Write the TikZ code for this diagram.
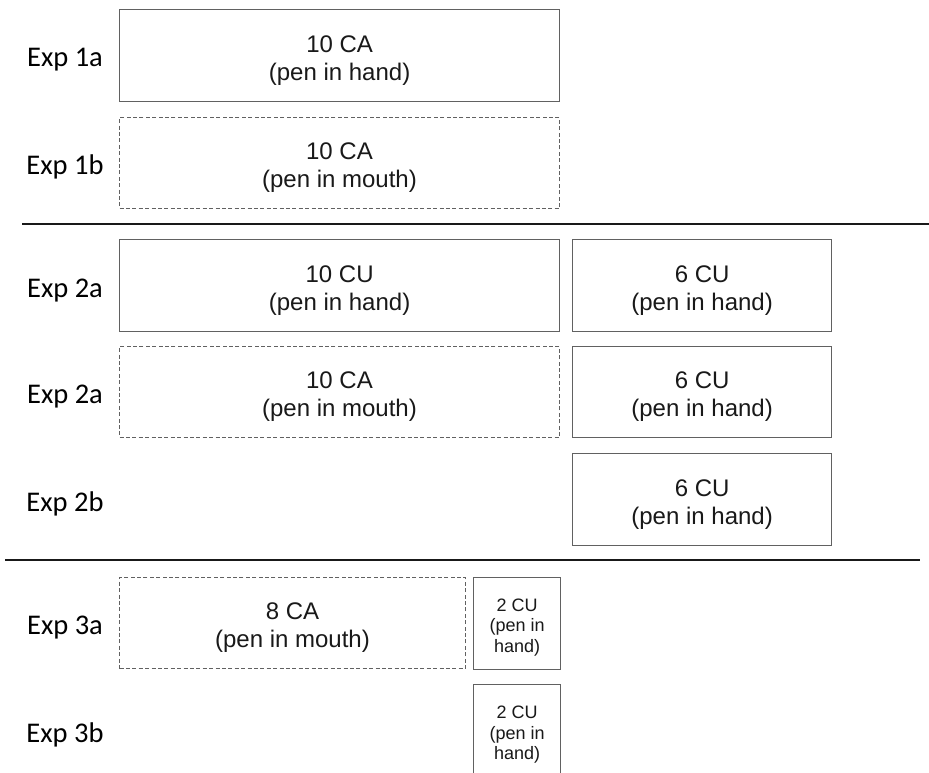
\documentclass[tikz,border=0pt]{standalone}
\usepackage{fontspec}
\setmainfont{Liberation Sans}
\newfontfamily\lblfont{Carlito}
\tikzset{
  bx/.style={draw=black!62, line width=1.2pt, inner sep=0pt, anchor=north west},
  dbx/.style={bx, dash pattern=on 4pt off 2.4pt, line width=1pt},
  bigtxt/.style={align=center, font=\fontsize{24}{28}\selectfont, text=black!90, inner sep=0pt},
  smalltxt/.style={align=center, font=\fontsize{18}{20.5}\selectfont, text=black!90, inner sep=0pt},
  explbl/.style={font=\lblfont\fontsize{28.5}{32}\selectfont, anchor=base, inner sep=0pt},
  sep/.style={line width=2.6pt, black!90}
}
\begin{document}
\begin{tikzpicture}[x=1pt,y=-1pt]
\useasboundingbox (0,0) rectangle (929,773);
\clip (0,0) rectangle (929,773);
\fill[white] (0,0) rectangle (929,773);
% row 1a
\node[bx, minimum width=440pt, minimum height=92pt] (b1a) at (119,9) {};
\node[bigtxt] (t1a) at ([yshift=-5pt]b1a.center) {10 CA\\(pen in hand)};
\node[explbl] (l1a) at (65,67) {Exp 1a};
% row 1b
\node[dbx, minimum width=440pt, minimum height=91pt] (b1b) at (119,117) {};
\node[bigtxt] (t1b) at ([yshift=-5pt]b1b.center) {10 CA\\(pen in mouth)};
\node[explbl] (l1b) at (65,174.5) {Exp 1b};
% separator 1
\coordinate (s1a) at (22,224);
\coordinate (s1b) at (929,224);
\draw[sep] (s1a) -- (s1b);
% row 2a
\node[bx, minimum width=440pt, minimum height=92pt] (b2a) at (119,239) {};
\node[bigtxt] (t2a) at ([yshift=-5pt]b2a.center) {10 CU\\(pen in hand)};
\node[bx, minimum width=259pt, minimum height=92pt] (r2a) at (572,239) {};
\node[bigtxt] (u2a) at ([yshift=-5pt]r2a.center) {6 CU\\(pen in hand)};
\node[explbl] (l2a) at (65,297) {Exp 2a};
% row 2a (second)
\node[dbx, minimum width=440pt, minimum height=91pt] (b2c) at (119,346) {};
\node[bigtxt] (t2c) at ([yshift=-5pt]b2c.center) {10 CA\\(pen in mouth)};
\node[bx, minimum width=259pt, minimum height=91pt] (r2c) at (572,346) {};
\node[bigtxt] (u2c) at ([yshift=-5pt]r2c.center) {6 CU\\(pen in hand)};
\node[explbl] (l2c) at (65,403.5) {Exp 2a};
% row 2b
\node[bx, minimum width=259pt, minimum height=92pt] (r2b) at (572,453) {};
\node[bigtxt] (u2b) at ([yshift=-5pt]r2b.center) {6 CU\\(pen in hand)};
\node[explbl] (l2b) at (65,511) {Exp 2b};
% separator 2
\coordinate (s2a) at (5,560);
\coordinate (s2b) at (920,560);
\draw[sep] (s2a) -- (s2b);
% row 3a
\node[dbx, minimum width=346pt, minimum height=91pt] (b3a) at (119,577) {};
\node[bigtxt] (t3a) at ([yshift=-5pt]b3a.center) {8 CA\\(pen in mouth)};
\node[bx, minimum width=87pt, minimum height=92pt] (r3a) at (473,576.5) {};
\node[smalltxt] (u3a) at ([yshift=-4pt]r3a.center) {2 CU\\(pen in\\hand)};
\node[explbl] (l3a) at (65,634.5) {Exp 3a};
% row 3b
\node[bx, minimum width=87pt, minimum height=92pt] (r3b) at (473,684) {};
\node[smalltxt] (u3b) at ([yshift=-4pt]r3b.center) {2 CU\\(pen in\\hand)};
\node[explbl] (l3b) at (65,742) {Exp 3b};
\end{tikzpicture}
\end{document}
